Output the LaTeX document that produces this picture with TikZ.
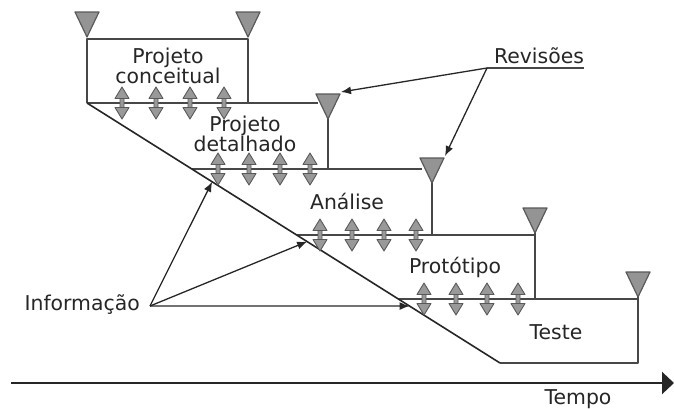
\documentclass[tikz,border=0pt]{standalone}
\usepackage{fontspec}
\setmainfont{DejaVu Sans}
\usetikzlibrary{arrows.meta}
\begin{document}
\begin{tikzpicture}[x=1pt,y=-1pt,line join=round,
    font=\fontsize{20.4}{17}\selectfont,
    linha/.style={line width=1.6pt,draw=black!72},
    seta/.style={line width=1.3pt,draw=black!85,-{Latex[length=10pt,width=8pt]}},
    rotulo/.style={text=black!85,inner sep=0pt},
    marco/.pic={
        \draw[line width=1.2pt,draw=black!65,fill=black!42] (0,0) -- (-12,-25) -- (12,-25) -- cycle;
        \coordinate (-ne) at (13,-27);},
    troca/.pic={
        \draw[line width=0.9pt,draw=black!65,fill=black!40]
            (0,-16) -- (-7,-4.5) -- (7,-4.5) -- cycle
            (0,16) -- (-7,4.5) -- (7,4.5) -- cycle
            (-2,-4.5) rectangle (2,4.5);}]
    \useasboundingbox (0,0) rectangle (674,408);
    % etapas
    \draw[linha] (87,103) -- (87,39) -- (248,39) -- (248,103);
    \draw[linha] (87,103) -- (318,103);
    \draw[linha] (328,119) -- (328,169);
    \draw[linha] (191.8,169) -- (422,169);
    \draw[linha] (432,183) -- (432,235);
    \draw[linha] (296.7,235) -- (535,235);
    \draw[linha] (535,233) -- (535,299);
    \draw[linha] (398.4,299) -- (638,299);
    \draw[linha] (638,297) -- (638,363) -- (500,363);
    \draw[linha,draw=black!85] (87,103) -- coordinate[pos=.303] (d1) coordinate[pos=.533] (d2)
        coordinate[pos=.781] (d3) (500,363);
    % marcos
    \pic (m1a) at (87,37) {marco};
    \pic (m1b) at (248,37) {marco};
    \pic (m2) at (328,119) {marco};
    \pic (m3) at (432,183) {marco};
    \pic (m4) at (535,233) {marco};
    \pic (m5) at (638,297) {marco};
    \foreach \x in {122,156,190,224} \pic at (\x,103) {troca};
    \foreach \x in {218,249,280,310} \pic at (\x,169) {troca};
    \foreach \x in {320,352,384,416} \pic at (\x,235) {troca};
    \foreach \x in {424,456,487,518} \pic at (\x,299) {troca};
    % textos
    \node[rotulo,align=center] (conc) at (168,66) {Projeto\\conceitual};
    \node[rotulo,align=center] (det) at (245,134) {Projeto\\detalhado};
    \node[rotulo,anchor=base] (anal) at (347,209) {Análise};
    \node[rotulo,anchor=base] (prot) at (455,273) {Protótipo};
    \node[rotulo,anchor=base] (teste) at (556,339) {Teste};
    \node[rotulo,anchor=base] (tempo) at (578,404) {Tempo};
    \node[rotulo,anchor=base] (rev) at (539,63) {Revisões};
    \node[rotulo,anchor=base east] (info) at (140,310) {Informação};
    \coordinate (rv) at (487,68);
    \coordinate (io) at (150,306);
    \draw[linha] (rv) -- (584,68);
    \draw[seta] (rv) -- (m2-ne);
    \draw[seta] (rv) -- (m3-ne);
    \draw[seta] (io) -- (d1);
    \draw[seta] (io) -- (d2);
    \draw[seta] (io) -- (d3);
    % tempo
    \draw[line width=2.4pt,draw=black!85,-{Triangle[length=12pt,width=22pt]}] (11,383) -- (674,383);
\end{tikzpicture}
\end{document}
